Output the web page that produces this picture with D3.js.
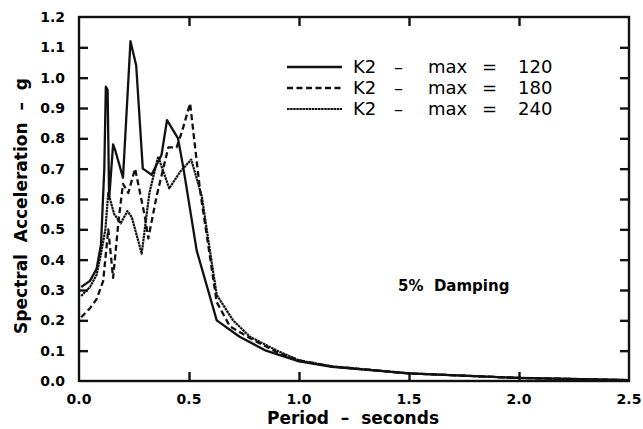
<!DOCTYPE html>
<html>
<head>
<meta charset="utf-8">
<script src="https://cdn.jsdelivr.net/npm/d3@7"></script>
<style>
  body { margin: 0; background: #fff; }
  svg { display: block; font-family: "DejaVu Sans", "Liberation Sans", sans-serif; }
  .tick-label { font-size: 14px; font-weight: bold; }
  .axis-title { font-size: 17px; font-weight: bold; }
  .legend-text { font-size: 18px; }
  .inticks .domain { display: none; }
  .inticks line { stroke: #111; stroke-width: 2.4px; }
</style>
</head>
<body>
<svg width="643" height="429"></svg>
<script>
// periods (s) and spectral acceleration (g)
const period120 = [0.01, 0.05, 0.08, 0.10, 0.115, 0.122, 0.13, 0.137, 0.155, 0.165, 0.20, 0.234, 0.26, 0.29, 0.33, 0.375, 0.40, 0.45, 0.475, 0.535, 0.626, 0.73, 0.85, 1.0, 1.15, 1.5, 2.0, 2.5]
const accel120  = [0.31, 0.33, 0.37, 0.45, 0.70, 0.97, 0.96, 0.60, 0.78, 0.76, 0.67, 1.12, 1.04, 0.70, 0.68, 0.745, 0.86, 0.80, 0.70, 0.43, 0.20, 0.146, 0.10, 0.065, 0.047, 0.025, 0.01, 0.003]

const period180 = [0.01, 0.05, 0.08, 0.11, 0.133, 0.155, 0.18, 0.20, 0.224, 0.255, 0.30, 0.315, 0.353, 0.406, 0.444, 0.467, 0.505, 0.55, 0.626, 0.686, 0.78, 0.90, 1.0, 1.15, 1.5, 2.0, 2.5]
const accel180  = [0.21, 0.24, 0.27, 0.33, 0.50, 0.34, 0.53, 0.65, 0.62, 0.70, 0.54, 0.47, 0.61, 0.77, 0.77, 0.82, 0.915, 0.63, 0.26, 0.18, 0.14, 0.095, 0.068, 0.048, 0.025, 0.01, 0.003]

const period240 = [0.01, 0.05, 0.08, 0.10, 0.12, 0.133, 0.16, 0.19, 0.22, 0.24, 0.285, 0.32, 0.36, 0.41, 0.46, 0.51, 0.558, 0.595, 0.626, 0.70, 0.777, 0.90, 1.0, 1.15, 1.5, 2.0, 2.5]
const accel240  = [0.28, 0.31, 0.35, 0.42, 0.50, 0.62, 0.55, 0.52, 0.56, 0.54, 0.42, 0.62, 0.74, 0.635, 0.69, 0.73, 0.61, 0.43, 0.284, 0.20, 0.146, 0.10, 0.068, 0.048, 0.025, 0.01, 0.003]

const xTicks = [0.0, 0.5, 1.0, 1.5, 2.0, 2.5]
const yTicks = [0.0, 0.1, 0.2, 0.3, 0.4, 0.5, 0.6, 0.7, 0.8, 0.9, 1.0, 1.1, 1.2]
const legendLabels = ['120', '180', '240']

var svg = d3.select('svg')

const plotL = 79, plotR = 629, plotT = 17, plotB = 381

const x = d3.scaleLinear().domain([0, 2.5]).range([plotL, plotR])
const y = d3.scaleLinear().domain([0, 1.2]).range([plotB, plotT])

const fmt = d3.format('.1f')
const tickLen = 9

// frame
svg.append('rect')
  .attr('x', plotL).attr('y', plotT)
  .attr('width', plotR - plotL).attr('height', plotB - plotT)
  .attr('fill', 'none').attr('stroke', '#111').attr('stroke-width', 2.4)

// inward ticks on all four sides, via d3 axes with no labels
const innerX = xTicks.slice(1, -1)
const innerY = yTicks.slice(1, -1)

svg.append('g').attr('class', 'inticks')
  .attr('transform', `translate(0,${plotB})`)
  .call(d3.axisBottom(x).tickValues(innerX).tickSize(-tickLen).tickFormat(''))
svg.append('g').attr('class', 'inticks')
  .attr('transform', `translate(0,${plotT})`)
  .call(d3.axisTop(x).tickValues(innerX).tickSize(-tickLen).tickFormat(''))
svg.append('g').attr('class', 'inticks')
  .attr('transform', `translate(${plotL},0)`)
  .call(d3.axisLeft(y).tickValues(innerY).tickSize(-tickLen).tickFormat(''))
svg.append('g').attr('class', 'inticks')
  .attr('transform', `translate(${plotR},0)`)
  .call(d3.axisRight(y).tickValues(innerY).tickSize(-tickLen).tickFormat(''))

// tick labels
svg.append('g').selectAll('text').data(xTicks).enter().append('text')
  .attr('class', 'tick-label')
  .attr('x', d => x(d)).attr('y', 404)
  .attr('text-anchor', 'middle')
  .text(d => fmt(d))

svg.append('g').selectAll('text').data(yTicks).enter().append('text')
  .attr('class', 'tick-label')
  .attr('x', 65).attr('y', d => y(d) + 5)
  .attr('text-anchor', 'end')
  .text(d => fmt(d))

// axis titles
svg.append('text').attr('class', 'axis-title')
  .attr('x', 353).attr('y', 424).attr('text-anchor', 'middle')
  .attr('xml:space', 'preserve')
  .text('Period  –  seconds')

svg.append('text').attr('class', 'axis-title')
  .attr('transform', 'translate(27,206) rotate(-90)')
  .attr('text-anchor', 'middle')
  .attr('xml:space', 'preserve')
  .text('Spectral  Acceleration  –  g')

// curves
const series = [
  { p: period120, a: accel120, dash: null, w: 2.3 },
  { p: period180, a: accel180, dash: '6,3.5', w: 2.3 },
  { p: period240, a: accel240, dash: '2.5,0.6', w: 2.2 }
]

const line = d3.line().x(d => x(d[0])).y(d => y(d[1]))

svg.append('g').selectAll('path').data(series).enter().append('path')
  .attr('d', s => line(d3.zip(s.p, s.a)))
  .attr('fill', 'none')
  .attr('stroke', '#111')
  .attr('stroke-width', s => s.w)
  .attr('stroke-linejoin', 'round')
  .attr('stroke-dasharray', s => s.dash)

// legend
const lg = svg.append('g')
lg.selectAll('line').data(series).enter().append('line')
  .attr('x1', 287).attr('x2', 342)
  .attr('y1', (d, i) => 67 + i * 21).attr('y2', (d, i) => 67 + i * 21)
  .attr('stroke', '#111').attr('stroke-width', d => d.w)
  .attr('stroke-dasharray', d => d.dash)

const row = lg.selectAll('text').data(legendLabels).enter().append('text')
  .attr('class', 'legend-text')
  .attr('y', (d, i) => 73 + i * 21)
row.append('tspan').attr('x', 353).text('K2')
row.append('tspan').attr('x', 394).text('–')
row.append('tspan').attr('x', 428).text('max')
row.append('tspan').attr('x', 482).text('=')
row.append('tspan').attr('x', 518).text(d => d)

svg.append('text')
  .attr('x', 398).attr('y', 291)
  .style('font-size', '15px').style('font-weight', 'bold')
  .attr('xml:space', 'preserve')
  .text('5%  Damping')
</script>
</body>
</html>
